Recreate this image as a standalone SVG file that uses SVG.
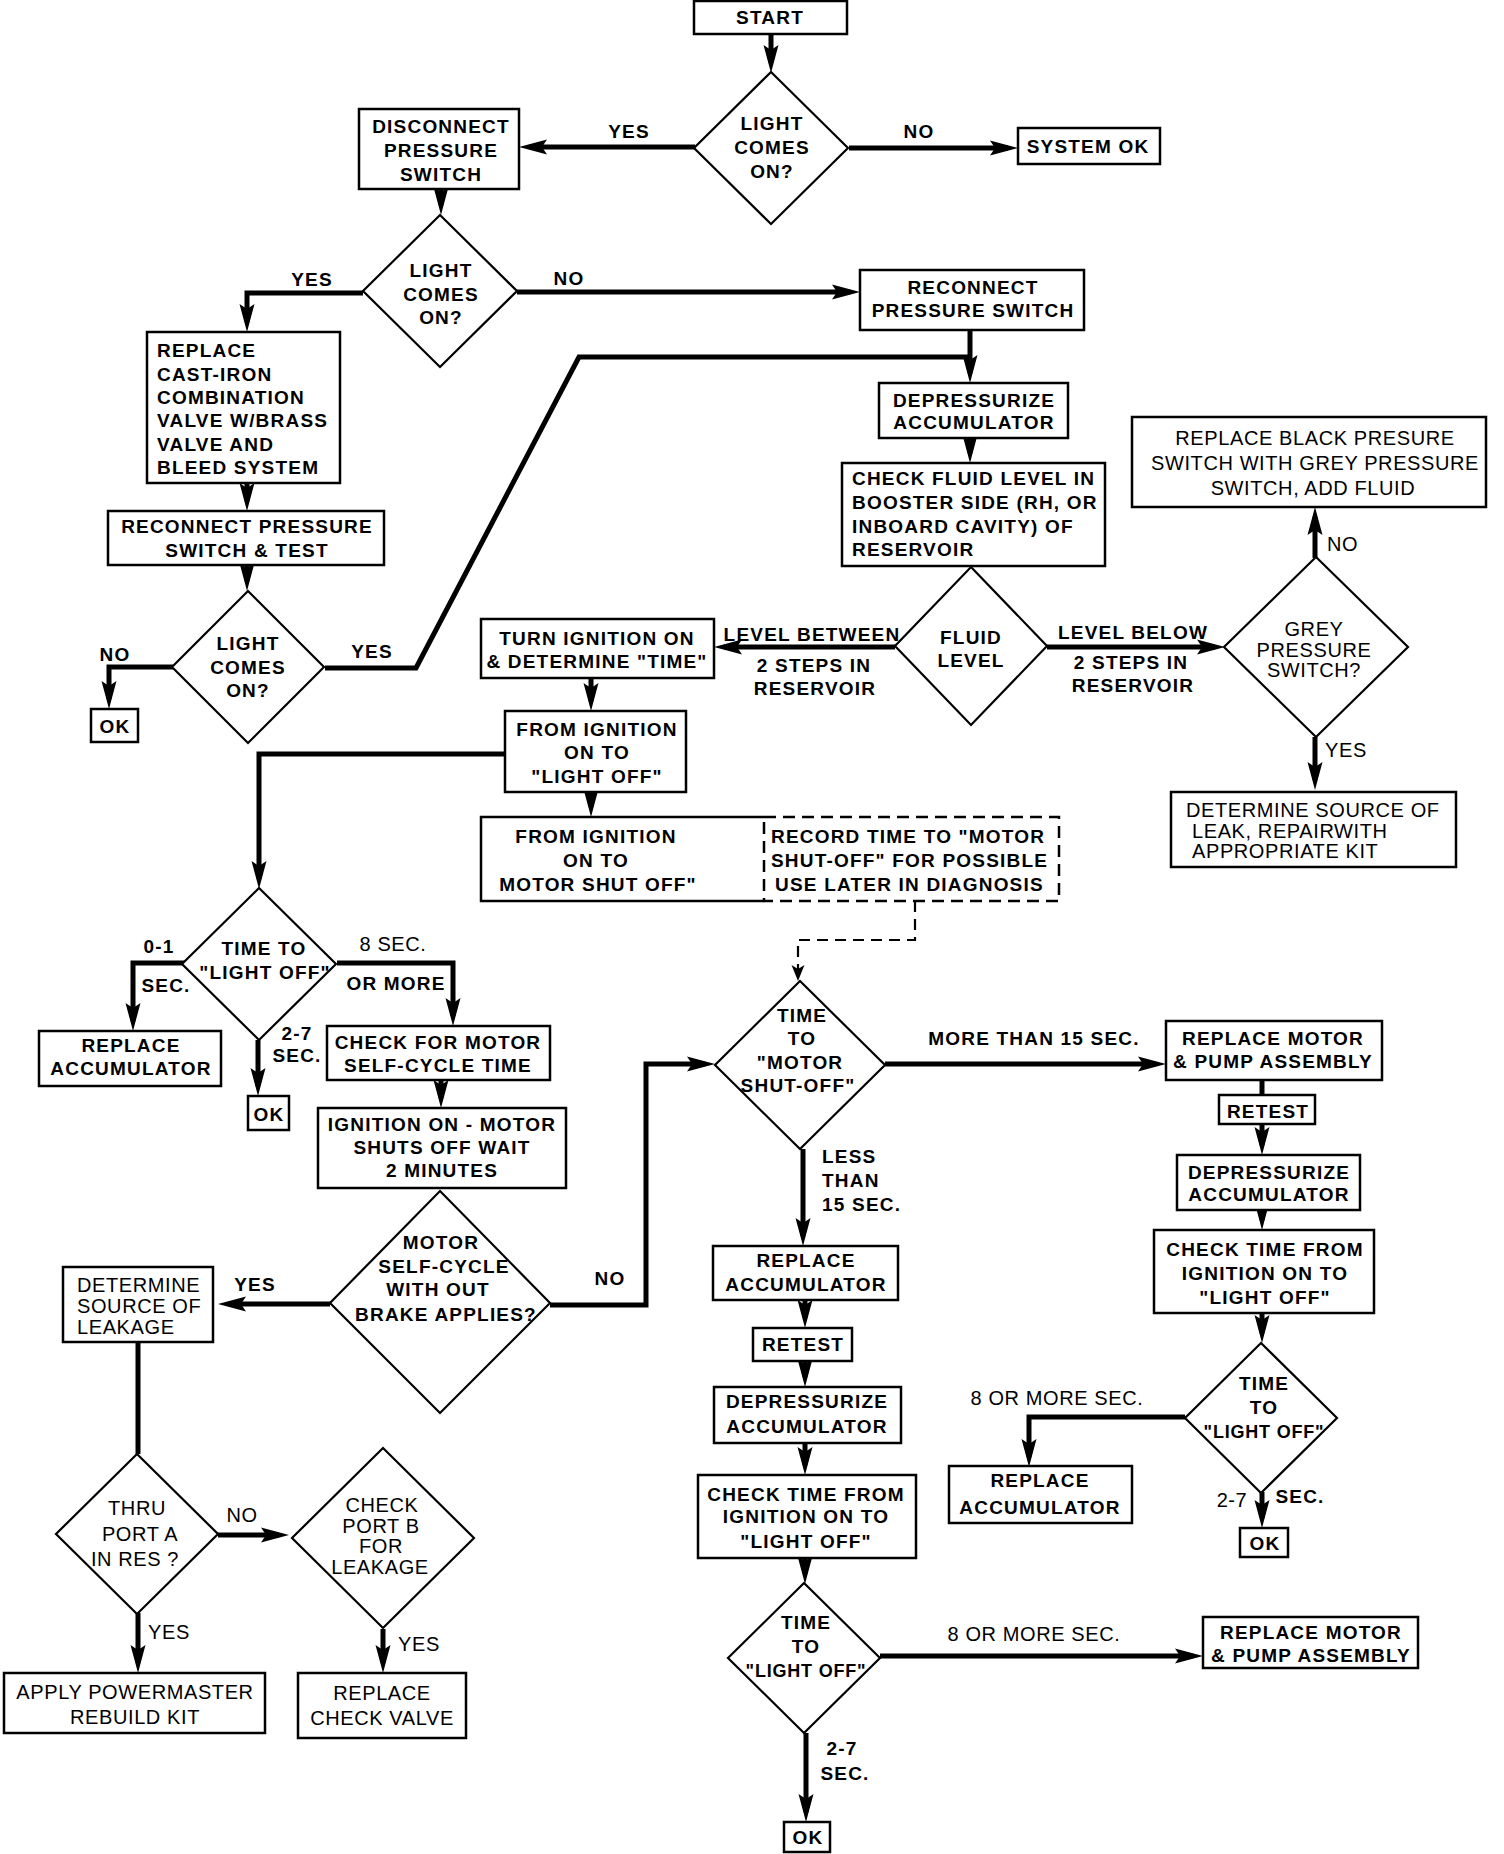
<svg xmlns="http://www.w3.org/2000/svg" width="1504" height="1854" viewBox="0 0 1504 1854">
<style>
.box{fill:#fff;stroke:#000;stroke-width:2.5}
.dia{fill:#fff;stroke:#000;stroke-width:2.2}
.dash{fill:none;stroke:#000;stroke-width:2.5;stroke-dasharray:12 7}
.c{fill:none;stroke:#000;stroke-width:5;stroke-linejoin:miter}
.a{marker-end:url(#ah)}
.cd{fill:none;stroke:#000;stroke-width:2.2;stroke-dasharray:11 7;marker-end:url(#ahs)}
text{font-family:"Liberation Sans",Arial,sans-serif;font-size:19px;font-weight:bold;letter-spacing:1.2px;fill:#000}
.m{text-anchor:middle}
.r{font-weight:normal;font-size:20px;letter-spacing:0.6px}
</style>
<defs>
<marker id="ah" markerUnits="userSpaceOnUse" markerWidth="28" markerHeight="16" refX="18" refY="8" orient="auto" viewBox="0 0 28 16">
<path d="M0,0.5 L28,8 L0,15.5 L5,8 Z" fill="#000"/>
</marker>
<marker id="ahs" markerUnits="userSpaceOnUse" markerWidth="16" markerHeight="14" refX="14" refY="7" orient="auto" viewBox="0 0 16 14">
<path d="M0,0.5 L16,7 L0,13.5 L4,7 Z" fill="#000"/>
</marker>
</defs>
<rect width="1504" height="1854" fill="#fff"/>

<g id="connectors">
<path class="c a" d="M771,34 V63"/>
<path class="c a" d="M695,147 H529"/>
<path class="c a" d="M849,148 H1008"/>
<path class="c a" d="M441,189 V205"/>
<path class="c a" d="M363,293 H247 V322"/>
<path class="c a" d="M517,292 H850"/>
<path class="c a" d="M247,483 V501"/>
<path class="c a" d="M247,565 V581"/>
<path class="c a" d="M173,667 H109 V699"/>
<path class="c" d="M325,668 H416 L579,357 H970"/>
<path class="c a" d="M970,330 V373"/>
<path class="c a" d="M970,438 V453"/>
<path class="c a" d="M895,647 H724"/>
<path class="c a" d="M1047,647 H1215"/>
<path class="c a" d="M1315,558 V517"/>
<path class="c a" d="M1315,737 V780"/>
<path class="c a" d="M591,678 V701"/>
<path class="c a" d="M591,792 V807"/>
<path class="c a" d="M505,754 H259 V879"/>
<path class="cd" d="M915,901 V940 H798 V979"/>
<path class="c a" d="M184,963 H133 V1021"/>
<path class="c a" d="M258,1040 V1086"/>
<path class="c a" d="M337,963 H453 V1016"/>
<path class="c a" d="M441,1080 V1098"/>
<path class="c a" d="M330,1304 H228"/>
<path class="c a" d="M550,1305 H646 V1064 H705"/>
<path class="c" d="M138,1342 V1454"/>
<path class="c a" d="M218,1535 H279"/>
<path class="c a" d="M138,1613 V1663"/>
<path class="c a" d="M383,1629 V1663"/>
<path class="c a" d="M885,1064 H1156"/>
<path class="c a" d="M803,1149 V1236"/>
<path class="c a" d="M805,1300 V1318"/>
<path class="c a" d="M805,1361 V1377"/>
<path class="c a" d="M805,1443 V1465"/>
<path class="c a" d="M805,1558 V1574"/>
<path class="c a" d="M880,1656 H1193"/>
<path class="c a" d="M806,1733 V1812"/>
<path class="c" d="M1262,1080 V1095"/>
<path class="c a" d="M1262,1124 V1145"/>
<path class="c a" d="M1262,1210 V1220"/>
<path class="c a" d="M1262,1313 V1333"/>
<path class="c a" d="M1185,1417 H1029 V1457"/>
<path class="c a" d="M1262,1492 V1518"/>
</g>

<g id="labels">
<text class="m" x="629" y="138">YES</text>
<text class="m" x="919" y="138">NO</text>
<text class="m" x="312" y="286">YES</text>
<text class="m" x="569" y="285">NO</text>
<text class="m" x="115" y="661">NO</text>
<text class="m" x="372" y="658">YES</text>
<text class="m" x="812" y="641">LEVEL BETWEEN</text>
<text class="m" x="814" y="672">2 STEPS IN</text>
<text class="m" x="815" y="695">RESERVOIR</text>
<text class="m" x="1133" y="639">LEVEL BELOW</text>
<text class="m" x="1131" y="669">2 STEPS IN</text>
<text class="m" x="1133" y="692">RESERVOIR</text>
<text class="r" x="1327" y="551">NO</text>
<text class="r" x="1325" y="757">YES</text>
<text class="m" x="159" y="953">0-1</text>
<text class="m" x="166" y="992">SEC.</text>
<text class="m r" x="393" y="951">8 SEC.</text>
<text class="m" x="396" y="990">OR MORE</text>
<text class="m" x="297" y="1040">2-7</text>
<text class="m" x="297" y="1062">SEC.</text>
<text class="m" x="255" y="1291">YES</text>
<text class="m" x="610" y="1285">NO</text>
<text class="m" x="1034" y="1045">MORE THAN 15 SEC.</text>
<text x="822" y="1163">LESS</text>
<text x="822" y="1187">THAN</text>
<text x="822" y="1211">15 SEC.</text>
<text class="m r" x="1057" y="1405">8 OR MORE SEC.</text>
<text class="m r" x="1232" y="1507">2-7</text>
<text class="m" x="1300" y="1503">SEC.</text>
<text class="m r" x="1034" y="1641">8 OR MORE SEC.</text>
<text class="m" x="842" y="1755">2-7</text>
<text class="m" x="845" y="1780">SEC.</text>
<text class="m r" x="242" y="1522">NO</text>
<text class="m r" x="169" y="1639">YES</text>
<text class="m r" x="419" y="1651">YES</text>
</g>

<g id="start"><rect class="box" x="694" y="1" width="153" height="33"/><text class="m" x="770" y="24">START</text></g>
<g id="d1"><polygon class="dia" points="771,72 848,148 771,224 694,148"/><text class="m" x="772" y="130">LIGHT</text><text class="m" x="772" y="154">COMES</text><text class="m" x="772" y="178">ON?</text></g>
<g id="system-ok"><rect class="box" x="1018" y="128" width="142" height="36"/><text class="m" x="1088" y="153">SYSTEM OK</text></g>
<g id="disconnect"><rect class="box" x="359" y="109" width="160" height="80"/><text class="m" x="441" y="133">DISCONNECT</text><text class="m" x="441" y="157">PRESSURE</text><text class="m" x="441" y="181">SWITCH</text></g>
<g id="d2"><polygon class="dia" points="440,215 517,291 440,367 363,291"/><text class="m" x="441" y="277">LIGHT</text><text class="m" x="441" y="301">COMES</text><text class="m" x="441" y="324">ON?</text></g>
<g id="replace-castiron"><rect class="box" x="147" y="332" width="193" height="151"/><text x="157" y="357">REPLACE</text><text x="157" y="381">CAST-IRON</text><text x="157" y="404">COMBINATION</text><text x="157" y="427">VALVE W/BRASS</text><text x="157" y="451">VALVE AND</text><text x="157" y="474">BLEED SYSTEM</text></g>
<g id="reconnect-test"><rect class="box" x="108" y="511" width="276" height="54"/><text class="m" x="247" y="533">RECONNECT PRESSURE</text><text class="m" x="247" y="557">SWITCH &amp; TEST</text></g>
<g id="d3"><polygon class="dia" points="248,591 324,667 248,743 172,667"/><text class="m" x="248" y="650">LIGHT</text><text class="m" x="248" y="674">COMES</text><text class="m" x="248" y="697">ON?</text></g>
<g id="ok1"><rect class="box" x="91" y="709" width="47" height="33"/><text class="m" x="115" y="733">OK</text></g>
<g id="reconnect"><rect class="box" x="860" y="270" width="224" height="60"/><text class="m" x="973" y="294">RECONNECT</text><text class="m" x="973" y="317">PRESSURE SWITCH</text></g>
<g id="depressurize1"><rect class="box" x="879" y="383" width="189" height="55"/><text class="m" x="974" y="407">DEPRESSURIZE</text><text class="m" x="974" y="429">ACCUMULATOR</text></g>
<g id="check-fluid"><rect class="box" x="842" y="463" width="263" height="103"/><text x="852" y="485">CHECK FLUID LEVEL IN</text><text x="852" y="509">BOOSTER SIDE (RH, OR</text><text x="852" y="533">INBOARD CAVITY) OF</text><text x="852" y="556">RESERVOIR</text></g>
<g id="fluid-level"><polygon class="dia" points="971,567 1047,646 971,725 895,646"/><text class="m" x="971" y="644">FLUID</text><text class="m" x="971" y="667">LEVEL</text></g>
<g id="grey"><polygon class="dia" points="1316,557 1408,647 1316,737 1224,647"/><text class="m r" x="1314" y="636">GREY</text><text class="m r" x="1314" y="657">PRESSURE</text><text class="m r" x="1314" y="677">SWITCH?</text></g>
<g id="replace-black"><rect class="box" x="1132" y="417" width="354" height="90"/><text class="m r" x="1315" y="445">REPLACE BLACK PRESURE</text><text class="m r" x="1315" y="470">SWITCH WITH GREY PRESSURE</text><text class="m r" x="1313" y="495">SWITCH, ADD FLUID</text></g>
<g id="leak-kit"><rect class="box" x="1171" y="792" width="285" height="75"/><text class="r" x="1186" y="817">DETERMINE SOURCE OF</text><text class="r" x="1192" y="838">LEAK, REPAIRWITH</text><text class="r" x="1192" y="858">APPROPRIATE KIT</text></g>
<g id="turn-ignition"><rect class="box" x="481" y="619" width="233" height="59"/><text class="m" x="597" y="645">TURN IGNITION ON</text><text class="m" x="597" y="668">&amp; DETERMINE "TIME"</text></g>
<g id="from-light-off"><rect class="box" x="505" y="711" width="181" height="81"/><text class="m" x="597" y="736">FROM IGNITION</text><text class="m" x="597" y="759">ON TO</text><text class="m" x="597" y="783">"LIGHT OFF"</text></g>
<g id="from-motor-shut-off"><path class="box" d="M764,817 H481 V901 H764" style="fill:none"/><text class="m" x="596" y="843">FROM IGNITION</text><text class="m" x="596" y="867">ON TO</text><text class="m" x="598" y="891">MOTOR SHUT OFF"</text></g>
<g id="record-time"><rect class="dash" x="764" y="817" width="295" height="84"/><text x="771" y="843">RECORD TIME TO "MOTOR</text><text x="771" y="867">SHUT-OFF" FOR POSSIBLE</text><text x="775" y="891">USE LATER IN DIAGNOSIS</text></g>
<g id="d4"><polygon class="dia" points="259,888 336,964 259,1040 182,964"/><text class="m" x="264" y="955">TIME TO</text><text class="m" x="265" y="979">"LIGHT OFF"</text></g>
<g id="replace-acc1"><rect class="box" x="39" y="1031" width="182" height="55"/><text class="m" x="131" y="1052">REPLACE</text><text class="m" x="131" y="1075">ACCUMULATOR</text></g>
<g id="ok2"><rect class="box" x="248" y="1096" width="41" height="34"/><text class="m" x="269" y="1121">OK</text></g>
<g id="check-self-cycle"><rect class="box" x="327" y="1026" width="223" height="54"/><text class="m" x="438" y="1049">CHECK FOR MOTOR</text><text class="m" x="438" y="1072">SELF-CYCLE TIME</text></g>
<g id="ignition-wait"><rect class="box" x="318" y="1108" width="248" height="80"/><text class="m" x="442" y="1131">IGNITION ON - MOTOR</text><text class="m" x="442" y="1154">SHUTS OFF WAIT</text><text class="m" x="442" y="1177">2 MINUTES</text></g>
<g id="d5"><polygon class="dia" points="440,1191 550,1303 440,1413 330,1303"/><text class="m" x="441" y="1249">MOTOR</text><text class="m" x="444" y="1273">SELF-CYCLE</text><text class="m" x="438" y="1296">WITH OUT</text><text class="m" x="446" y="1321">BRAKE APPLIES?</text></g>
<g id="determine-leakage"><rect class="box" x="63" y="1267" width="150" height="75"/><text class="r" x="77" y="1292">DETERMINE</text><text class="r" x="77" y="1313">SOURCE OF</text><text class="r" x="77" y="1334">LEAKAGE</text></g>
<g id="d6"><polygon class="dia" points="137,1454 218,1534 137,1614 56,1534"/><text class="m r" x="137" y="1515">THRU</text><text class="m r" x="140" y="1541">PORT A</text><text class="m r" x="135" y="1566">IN RES ?</text></g>
<g id="d7"><polygon class="dia" points="383,1448 474,1538 383,1628 292,1538"/><text class="m r" x="382" y="1512">CHECK</text><text class="m r" x="381" y="1533">PORT B</text><text class="m r" x="381" y="1553">FOR</text><text class="m r" x="380" y="1574">LEAKAGE</text></g>
<g id="apply-kit"><rect class="box" x="4" y="1673" width="261" height="60"/><text class="m r" x="135" y="1699">APPLY POWERMASTER</text><text class="m r" x="135" y="1724">REBUILD KIT</text></g>
<g id="replace-check-valve"><rect class="box" x="298" y="1673" width="168" height="65"/><text class="m r" x="382" y="1700">REPLACE</text><text class="m r" x="382" y="1725">CHECK VALVE</text></g>
<g id="d8"><polygon class="dia" points="800,981 885,1065 800,1149 715,1065"/><text class="m" x="802" y="1022">TIME</text><text class="m" x="802" y="1045">TO</text><text class="m" x="800" y="1069">"MOTOR</text><text class="m" x="798" y="1092">SHUT-OFF"</text></g>
<g id="replace-motor1"><rect class="box" x="1166" y="1021" width="216" height="59"/><text class="m" x="1273" y="1045">REPLACE MOTOR</text><text class="m" x="1273" y="1068">&amp; PUMP ASSEMBLY</text></g>
<g id="retest1"><rect class="box" x="1219" y="1095" width="96" height="29"/><text class="m" x="1268" y="1118">RETEST</text></g>
<g id="depressurize2"><rect class="box" x="1177" y="1155" width="183" height="55"/><text class="m" x="1269" y="1179">DEPRESSURIZE</text><text class="m" x="1269" y="1201">ACCUMULATOR</text></g>
<g id="check-time2"><rect class="box" x="1154" y="1230" width="220" height="83"/><text class="m" x="1265" y="1256">CHECK TIME FROM</text><text class="m" x="1265" y="1280">IGNITION ON TO</text><text class="m" x="1265" y="1304">"LIGHT OFF"</text></g>
<g id="d9"><polygon class="dia" points="1261,1343 1337,1418 1261,1493 1185,1418"/><text class="m" x="1264" y="1390">TIME</text><text class="m" x="1264" y="1414">TO</text><text class="m" x="1264" y="1438" style="font-size:18px;letter-spacing:0.8px">"LIGHT OFF"</text></g>
<g id="replace-acc3"><rect class="box" x="949" y="1466" width="183" height="57"/><text class="m" x="1040" y="1487">REPLACE</text><text class="m" x="1040" y="1514">ACCUMULATOR</text></g>
<g id="ok3"><rect class="box" x="1240" y="1528" width="48" height="29"/><text class="m" x="1265" y="1550">OK</text></g>
<g id="replace-acc2"><rect class="box" x="713" y="1246" width="185" height="54"/><text class="m" x="806" y="1267">REPLACE</text><text class="m" x="806" y="1291">ACCUMULATOR</text></g>
<g id="retest2"><rect class="box" x="753" y="1328" width="99" height="33"/><text class="m" x="803" y="1351">RETEST</text></g>
<g id="depressurize3"><rect class="box" x="714" y="1387" width="187" height="56"/><text class="m" x="807" y="1408">DEPRESSURIZE</text><text class="m" x="807" y="1433">ACCUMULATOR</text></g>
<g id="check-time1"><rect class="box" x="698" y="1475" width="218" height="83"/><text class="m" x="806" y="1501">CHECK TIME FROM</text><text class="m" x="806" y="1523">IGNITION ON TO</text><text class="m" x="806" y="1548">"LIGHT OFF"</text></g>
<g id="d10"><polygon class="dia" points="804,1583 880,1658 804,1733 728,1658"/><text class="m" x="806" y="1629">TIME</text><text class="m" x="806" y="1653">TO</text><text class="m" x="806" y="1677" style="font-size:18px;letter-spacing:0.8px">"LIGHT OFF"</text></g>
<g id="replace-motor2"><rect class="box" x="1203" y="1617" width="215" height="51"/><text class="m" x="1311" y="1639">REPLACE MOTOR</text><text class="m" x="1311" y="1662">&amp; PUMP ASSEMBLY</text></g>
<g id="ok4"><rect class="box" x="784" y="1822" width="46" height="30"/><text class="m" x="808" y="1844">OK</text></g>
</svg>
